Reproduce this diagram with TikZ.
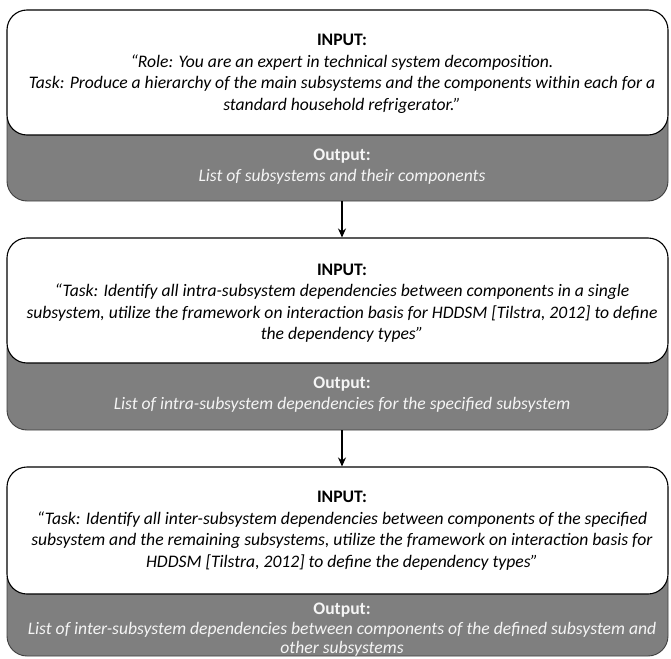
\documentclass[tikz,border=0pt]{standalone}
\usepackage{fontspec}
\setmainfont{Carlito}
\usepackage{xcolor}
\usetikzlibrary{arrows.meta, positioning}
\definecolor{outgray}{RGB}{127,127,127}
\definecolor{outtxt}{RGB}{245,245,245}
\tikzset{
  inbox/.style={draw=black, line width=1.1pt, fill=white, rounded corners=20pt, minimum width=661pt, inner sep=0pt},
  outbox/.style={draw=black!75, line width=0.9pt, fill=outgray, rounded corners=20pt, minimum width=661pt, inner sep=0pt},
  intext/.style={align=center, font=\fontsize{17.6}{21.5}\selectfont},
  outtext/.style={align=center, text=outtxt, font=\fontsize{17.6}{21}\selectfont},
  arrow/.style={line width=1.6pt, -{Stealth[length=9pt,width=8pt]}}
}

\begin{document}
\begin{tikzpicture}[x=1pt, y=-1pt]
    \useasboundingbox (0,0) rectangle (671,658);

    % Step 1: decomposition
    \node[outbox, minimum height=101pt] (out1) at (337.5,150.5) {};
    \node[inbox, minimum height=125pt] (in1) at (337.5,72.5) {};
    \node[intext] (q1) at (342,74) {\textbf{INPUT:}\\
        \textit{“Role: You are an expert in technical system decomposition.}\\
        \textit{Task: Produce a hierarchy of the main subsystems and the components within each for a}\\
        \textit{standard household refrigerator.”}};
    \node[outtext] (a1) at (342,167) {\textbf{Output:}\\
        \textit{List of subsystems and their components}};

    % Step 2: intra-subsystem dependencies
    \node[outbox, minimum height=100pt] (out2) at (337.5,380) {};
    \node[inbox, minimum height=125pt] (in2) at (337.5,300.5) {};
    \node[intext] (q2) at (342,303) {\textbf{INPUT:}\\
        \textit{“Task: Identify all intra-subsystem dependencies between components in a single}\\
        \textit{subsystem, utilize the framework on interaction basis for HDDSM [Tilstra, 2012] to define}\\
        \textit{the dependency types”}};
    \node[outtext] (a2) at (342,395) {\textbf{Output:}\\
        \textit{List of intra-subsystem dependencies for the specified subsystem}};

    % Step 3: inter-subsystem dependencies
    \node[outbox, minimum height=96pt] (out3) at (337.5,608) {};
    \node[inbox, minimum height=127pt] (in3) at (337.5,530.5) {};
    \node[intext] (q3) at (342,530.5) {\textbf{INPUT:}\\
        \textit{“Task: Identify all inter-subsystem dependencies between components of the specified}\\
        \textit{subsystem and the remaining subsystems, utilize the framework on interaction basis for}\\
        \textit{HDDSM [Tilstra, 2012] to define the dependency types”}};
    \node[outtext, font=\fontsize{17.6}{19.5}\selectfont] (a3) at (342,630) {\textbf{Output:}\\
        \textit{List of inter-subsystem dependencies between components of the defined subsystem and}\\
        \textit{other subsystems}};

    % Arrows
    \draw[arrow] ([xshift=4.5pt]out1.south) -- ([xshift=4.5pt]in2.north);
    \draw[arrow] ([xshift=4.5pt]out2.south) -- ([xshift=4.5pt]in3.north);
\end{tikzpicture}
\end{document}
